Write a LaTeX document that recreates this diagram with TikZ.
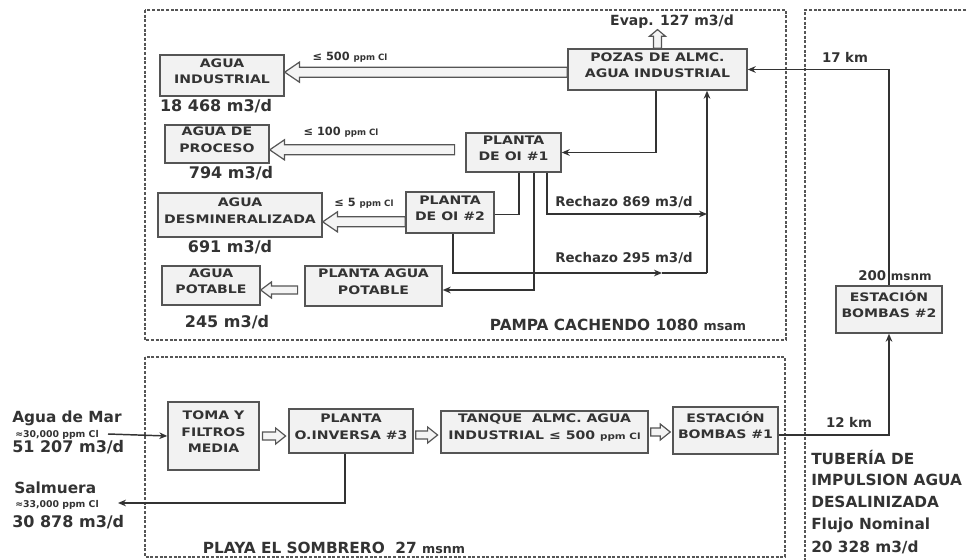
\documentclass[tikz,border=0pt]{standalone}
\usepackage{fontspec}
\setmainfont{DejaVu Sans}
\newfontfamily\boxfont[FakeStretch=1.2]{DejaVu Sans}
\usetikzlibrary{fit,calc,arrows.meta}
\definecolor{ink}{HTML}{333333}
\definecolor{edge}{HTML}{555555}
\definecolor{boxfill}{HTML}{F2F2F2}
\definecolor{hfill}{HTML}{F4F4F4}
\newcommand\smt[1]{{\fontsize{6.5}{7}\selectfont #1}}
% horizontal hollow arrow: start, target, shaft half, head half, head length
\newcommand\hollowH[5]{%
 \draw[hollow] let \p1=(#1), \p2=(#2), \n1={sign(\x2-\x1)} in
  (\x1,{\y1+#3}) -- ({\x2-(\n1)*#5},{\y1+#3}) -- ({\x2-(\n1)*#5},{\y1+#4}) -- (\x2,\y1)
  -- ({\x2-(\n1)*#5},{\y1-#4}) -- ({\x2-(\n1)*#5},{\y1-#3}) -- (\x1,{\y1-#3}) -- cycle;}
% vertical hollow arrow
\newcommand\hollowV[5]{%
 \draw[hollow] let \p1=(#1), \p2=(#2), \n1={sign(\y2-\y1)} in
  ({\x1+#3},\y1) -- ({\x1+#3},{\y2-(\n1)*#5}) -- ({\x1+#4},{\y2-(\n1)*#5}) -- (\x1,\y2)
  -- ({\x1-#4},{\y2-(\n1)*#5}) -- ({\x1-#3},{\y2-(\n1)*#5}) -- ({\x1-#3},\y1) -- cycle;}
\tikzset{
 box/.style={draw=edge, fill=boxfill, line width=1.1pt, inner sep=0pt, align=center, text=ink, font=\boxfont\bfseries\fontsize{8.8}{12.5}\selectfont},
 txt/.style={text=ink, inner sep=0pt, font=\bfseries\fontsize{10}{12}\selectfont},
 qty/.style={text=ink, inner sep=0pt, font=\bfseries\fontsize{12}{14}\selectfont},
 lim/.style={text=ink, inner sep=0pt, font=\bfseries\fontsize{8.5}{9}\selectfont},
 zone/.style={text=ink, inner sep=0pt, font=\bfseries\fontsize{11.5}{13}\selectfont},
 flow/.style={draw=ink, line width=1.1pt, -{Stealth[length=6pt,width=5pt]}},
 pipe/.style={draw=ink, line width=1.1pt},
 dashbox/.style={draw=edge, line width=1.3pt, dash pattern=on 2.2pt off 1.3pt},
 hollow/.style={draw=edge, fill=hfill, line width=0.9pt, line join=miter},
}
\begin{document}
\begin{tikzpicture}[x=0.75pt,y=-0.75pt]
\useasboundingbox (0,0) rectangle (968,560);
% zones
\draw[dashbox] (145,10) rectangle (786,340);
\draw[dashbox] (145,357) rectangle (785,557);
\draw[dashbox] (980,10) -- (805,10) -- (805,565);
% boxes
\node[box, fit={(160,55)(284,96)}] (ai) {AGUA\\INDUSTRIAL};
\node[box, fit={(568,49)(747,90)}] (pz) {POZAS DE ALMC.\\AGUA INDUSTRIAL};
\node[box, fit={(165,125)(269,163)}] (ap) {AGUA DE\\PROCESO};
\node[box, fit={(466,133)(561,172)}] (oi1) {PLANTA\\DE OI \#1};
\node[box, fit={(158,193)(322,237)}] (ad) {AGUA\\DESMINERALIZADA};
\node[box, fit={(406,192)(494,233)}] (oi2) {PLANTA\\DE OI \#2};
\node[box, fit={(162,266)(260,305)}] (apo) {AGUA\\POTABLE};
\node[box, fit={(305,266)(442,306)}] (pp) {PLANTA AGUA\\POTABLE};
\node[box, fit={(168,402)(259,470)}] (toma) {TOMA Y\\FILTROS\\MEDIA};
\node[box, fit={(289,409)(413,453)}] (p3) {PLANTA\\O.INVERSA \#3};
\node[box, fit={(441,411)(648,453)}] (tq) {TANQUE\ \ ALMC. AGUA\\INDUSTRIAL ≤ 500 \smt{ppm Cl}};
\node[box, fit={(673,407)(778,454)}] (eb1) {ESTACIÓN\\BOMBAS \#1};
\node[box, fit={(836,286)(942,333)}] (eb2) {ESTACIÓN\\BOMBAS \#2};
% coordinates
\coordinate (r1) at (707,214);
\coordinate (r2) at (707,273);
\coordinate (m2) at (662,273);
\coordinate (salm) at (118,503);
\coordinate (mar) at (108,434);
\coordinate (ev) at ([yshift=14pt]pz.north);
% connectors
\draw[flow] (eb2.north) |- (pz.east);
\draw[flow] ([yshift=-3.5pt]eb1.east) -| (eb2.south);
\draw[flow] (pz.south -| 656,0) |- (oi1.east);
\draw[flow] (r2) -- (r2 |- pz.south);
\draw[flow] (oi1.south -| 547,0) |- (r1);
\draw[pipe] (oi1.south -| 519,0) |- ([yshift=-1.5pt]oi2.east);
\draw[flow] (oi1.south -| 534,0) |- ([yshift=-3pt]pp.east);
\draw[flow] (oi2.south -| 453,0) |- (m2);
\draw[pipe] (m2) -- (r2);
\draw[flow] (p3.south -| 345,0) |- (salm);
\draw[flow] (mar) -- (toma.west);
% hollow arrows
\hollowH{[yshift=-2pt]pz.west}{ai.east}{3.75pt}{7.5pt}{11pt}
\hollowH{[xshift=-8pt,yshift=2pt]oi1.west}{ap.east}{3.75pt}{7.5pt}{11pt}
\hollowH{[yshift=-7pt]oi2.west}{ad.east}{3.75pt}{7.5pt}{11pt}
\hollowH{[xshift=-5pt,yshift=-3pt]pp.west}{apo.east}{3pt}{6pt}{8pt}
\hollowH{[xshift=2pt]toma.east}{[xshift=-2pt]p3.west}{3pt}{6pt}{7.5pt}
\hollowH{[xshift=1.5pt,yshift=-3pt]p3.east}{[xshift=-2pt]tq.west}{3pt}{6pt}{7.5pt}
\hollowH{[xshift=1.5pt]tq.east}{[xshift=-1.5pt]eb1.west}{3pt}{6pt}{7.5pt}
\hollowV{pz.north}{ev}{3pt}{6pt}{5pt}
% labels
\node[lim] (t500) at (350,57) {≤ 500 \smt{ppm Cl}};
\node[lim] (t100) at (341,132) {≤ 100 \smt{ppm Cl}};
\node[lim] (t5) at (364,203) {≤ 5 \smt{ppm Cl}};
\node[qty] (q1) at (216,106) {18 468 m3/d};
\node[qty] (q2) at (231,173) {794 m3/d};
\node[qty] (q3) at (230,247) {691 m3/d};
\node[qty] (q4) at (227,322) {245 m3/d};
\node[txt, font=\bfseries\fontsize{10.5}{12}\selectfont] (evap) at (672,22) {Evap. 127 m3/d};
\node[txt] (rch1) at (624,202) {Rechazo 869 m3/d};
\node[txt] (rch2) at (624,258) {Rechazo 295 m3/d};
\node[zone] (pampa) at (618,325) {PAMPA CACHENDO 1080 {\fontsize{9.5}{10}\selectfont msam}};
\node[zone] (playa) at (334,548) {PLAYA EL SOMBRERO\ \ 27 {\fontsize{9.5}{10}\selectfont msnm}};
\node[txt] (km17) at (845,57) {17 km};
\node[txt] (km12) at (849,422) {12 km};
\node[txt] (alt) at (895,276) {200 {\fontsize{9}{10}\selectfont msnm}};
% left
\node[zone, anchor=west] (tmar) at (12,418) {Agua de Mar};
\node[lim, font=\bfseries\fontsize{7}{7}\selectfont, anchor=west] (tmarc) at (15,435) {≈30,000 ppm Cl};
\node[qty, anchor=west] (tmarq) at (12,447) {51 207 m3/d};
\node[zone, anchor=west] (tsal) at (14,488) {Salmuera};
\node[lim, font=\bfseries\fontsize{7}{7}\selectfont, anchor=west] (tsalc) at (15,505) {≈33,000 ppm Cl};
\node[qty, anchor=west] (tsalq) at (12,522) {30 878 m3/d};
% right
\node[zone, anchor=west] (tub1) at (811,457) {TUBERÍA DE};
\node[zone, anchor=west] (tub2) at (811,480) {IMPULSION AGUA};
\node[zone, anchor=west] (tub3) at (811,502) {DESALINIZADA};
\node[zone, anchor=west] (tub4) at (811,525) {Flujo Nominal};
\node[zone, anchor=west] (tub5) at (811,547) {20 328 m3/d};
\end{tikzpicture}
\end{document}
